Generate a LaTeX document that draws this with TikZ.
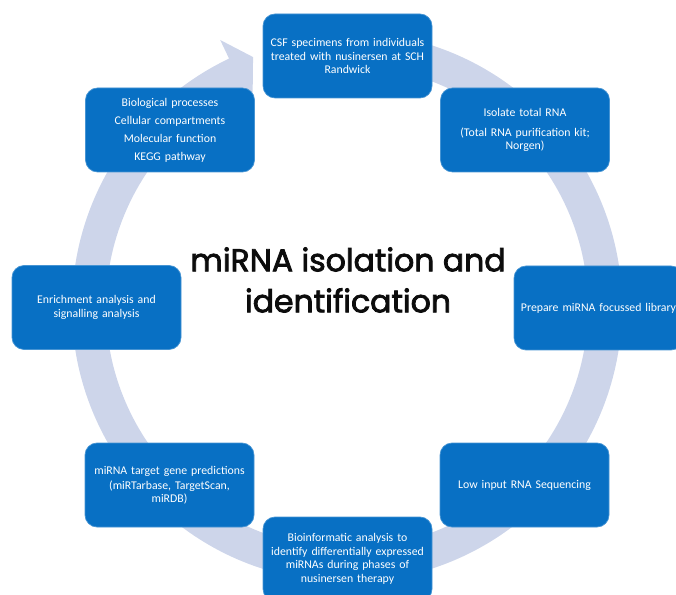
\documentclass[tikz,border=0pt]{standalone}
\usepackage{fontspec}
\setmainfont{Carlito}
\newfontfamily\titlefont[FakeBold=2.5]{Poppins}
\definecolor{boxblue}{RGB}{8,112,196}
\definecolor{ringblue}{RGB}{205,213,234}
\definecolor{titleblack}{RGB}{12,12,12}
\tikzset{
  stepbox/.style={draw=boxblue!75!white, line width=0.7pt, fill=boxblue, rounded corners=12pt,
    minimum width=169pt, minimum height=84pt, text width=160pt, align=center,
    text=white, inner sep=0pt, font=\fontsize{11.8}{13.5}\selectfont},
  ring/.style={fill=ringblue, draw=none},
  titlestyle/.style={align=center, text=titleblack, font=\titlefont\fontsize{31.5}{41}\selectfont}
}
\begin{document}
\begin{tikzpicture}[x=1pt,y=1pt]
\useasboundingbox (0,0) rectangle (676,594);
\clip (0,0) rectangle (676,594);
% circular arrow
\begin{scope}[shift={(347pt,287pt)}]
\fill[ring] (80:275pt) arc[start angle=80, end angle=-244.6, radius=275pt]
  -- (115.4:295.6pt) -- (110.6:267pt) -- (115.4:220.4pt) -- (115.4:241pt)
  arc[start angle=-244.6, end angle=80, radius=241pt] -- cycle;
\end{scope}
% boxes
\node[stepbox] (csf) at (347.5,538) {CSF specimens from individuals\\treated with nusinersen at SCH\\Randwick};
\node[stepbox] (isolate) at (525,464) {Isolate total RNA\\[6pt](Total RNA purification kit;\\Norgen)};
\node[stepbox] (prepare) at (598.5,286) {Prepare miRNA focussed library};
\node[stepbox] (lowinput) at (524.5,109) {Low input RNA Sequencing};
\node[stepbox] (bioinf) at (347.5,35) {Bioinformatic analysis to\\identify differentially expressed\\miRNAs during phases of\\nusinersen therapy};
\node[stepbox] (target) at (169.5,109) {miRNA target gene predictions\\[1.5pt](miRTarbase, TargetScan,\\miRDB)};
\node[stepbox] (enrich) at (96.5,286.5) {Enrichment analysis and\\signalling analysis};
\node[stepbox] (bio) at (170,464) {Biological processes\\[4.5pt]Cellular compartments\\[4.5pt]Molecular function\\[4.5pt]KEGG pathway};
% title
\node[titlestyle] (title) at (348,314) {miRNA isolation and\\identification};
\end{tikzpicture}
\end{document}
